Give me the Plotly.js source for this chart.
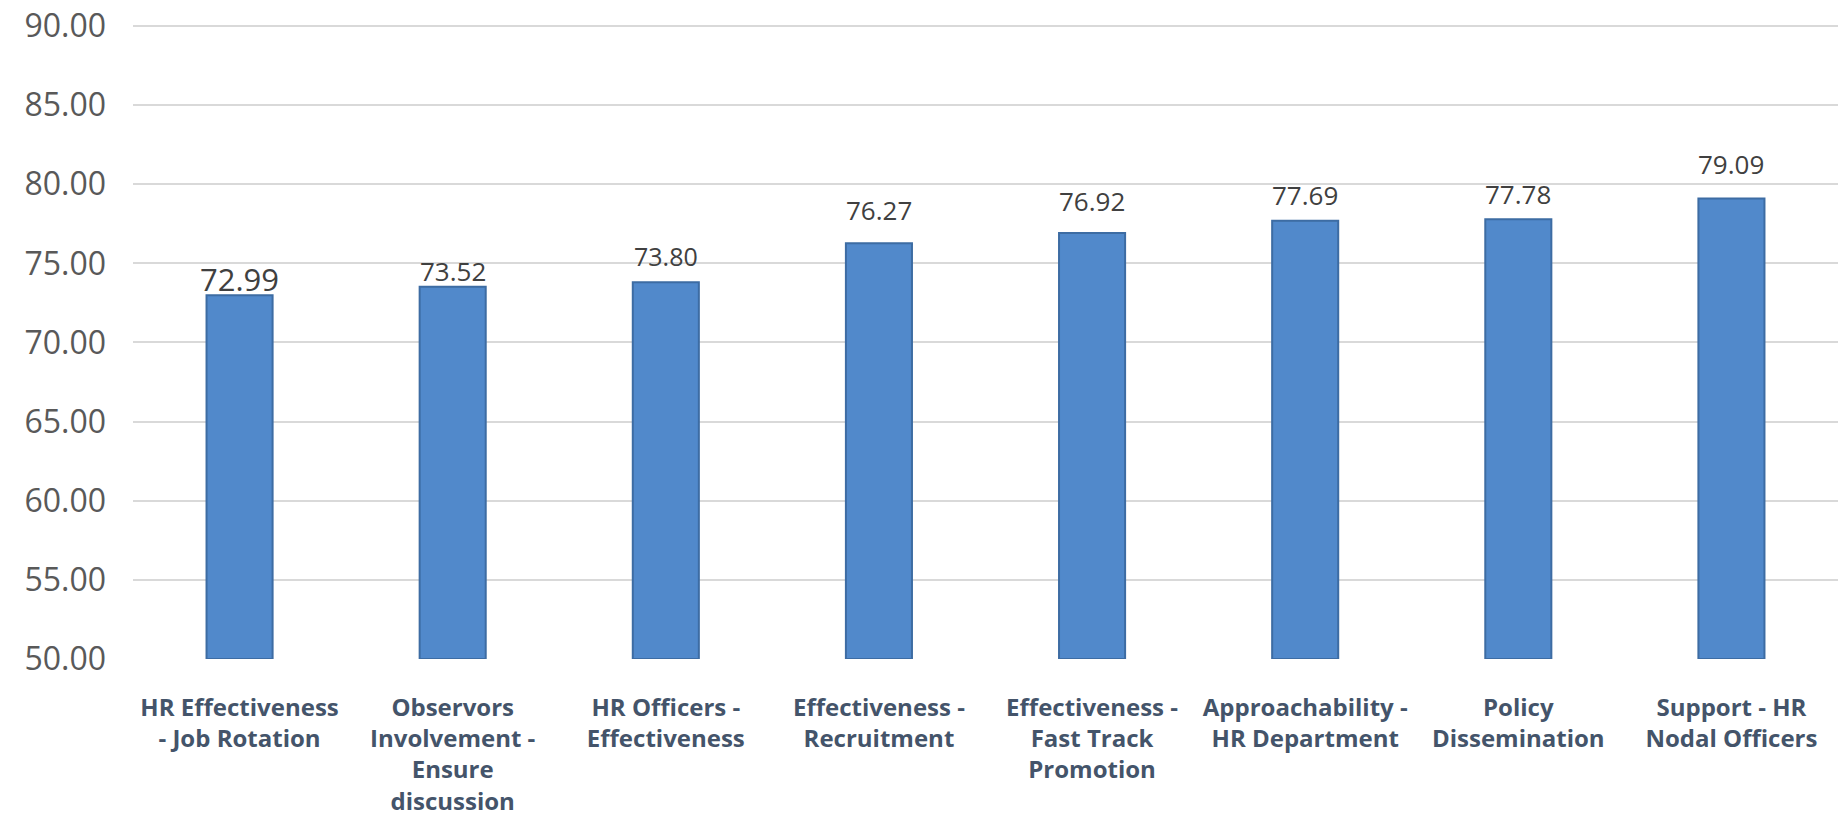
<!DOCTYPE html>
<html>
<head>
<meta charset="utf-8">
<script src="https://cdn.plot.ly/plotly-3.0.1.min.js"></script>
<style>html,body{margin:0;padding:0;background:#fff;}#chart{width:1844px;height:828px;}</style>
</head>
<body>
<div id="chart"></div>
<script>
const categories = [
  "HR Effectiveness<br>- Job Rotation",
  "Observors<br>Involvement -<br>Ensure<br>discussion",
  "HR Officers -<br>Effectiveness",
  "Effectiveness -<br>Recruitment",
  "Effectiveness -<br>Fast Track<br>Promotion",
  "Approachability -<br>HR Department",
  "Policy<br>Dissemination",
  "Support - HR<br>Nodal Officers"
];
const values = [72.99, 73.52, 73.80, 76.27, 76.92, 77.69, 77.78, 79.09];
const yTicks = [50, 55, 60, 65, 70, 75, 80, 85, 90];
// label styling (font size and gap above bar, px)
const labelSizes = [31, 26, 25, 26, 26, 26, 26, 26];
const labelGaps = [2, 3, 14, 20, 19, 13, 12, 22];

const trace = {
  type: "bar",
  x: categories,
  y: values.map(v => v - 50),
  base: 50,
  marker: {color: "#5189cb", line: {color: "#3d6ca3", width: 2}},
  width: 0.31,
  hoverinfo: "skip"
};

const annotations = values.map((v, i) => ({
  x: categories[i], y: v, xref: "x", yref: "y",
  text: v.toFixed(2), showarrow: false,
  yanchor: "bottom", xanchor: "center",
  yshift: labelGaps[i] - Math.round(labelSizes[i] * 0.28),
  font: {family: "Open Sans, sans-serif", size: labelSizes[i], color: "#404040"}
}));

const layout = {
  width: 1844, height: 828,
  margin: {l: 133, r: 6, t: 24, b: 169},
  paper_bgcolor: "#fff", plot_bgcolor: "#fff",
  showlegend: false,
  annotations: annotations,
  xaxis: {
    type: "category",
    tickfont: {family: "Open Sans, sans-serif", size: 24, color: "#44546a", weight: "bold"},
    tickangle: 0,
    showgrid: false, zeroline: false, showline: false, ticks: "",
    ticklabelstandoff: 32
  },
  yaxis: {
    range: [50, 90.12],
    tickvals: yTicks,
    ticktext: yTicks.map(v => v.toFixed(2)),
    tickfont: {family: "Open Sans, sans-serif", size: 32, color: "#595959"},
    gridcolor: "#d9d9d9", gridwidth: 2,
    zeroline: false, showline: false, ticks: "",
    ticklabelstandoff: 26
  }
};
Plotly.newPlot("chart", [trace], layout, {displayModeBar: false, staticPlot: true});
</script>
</body>
</html>
